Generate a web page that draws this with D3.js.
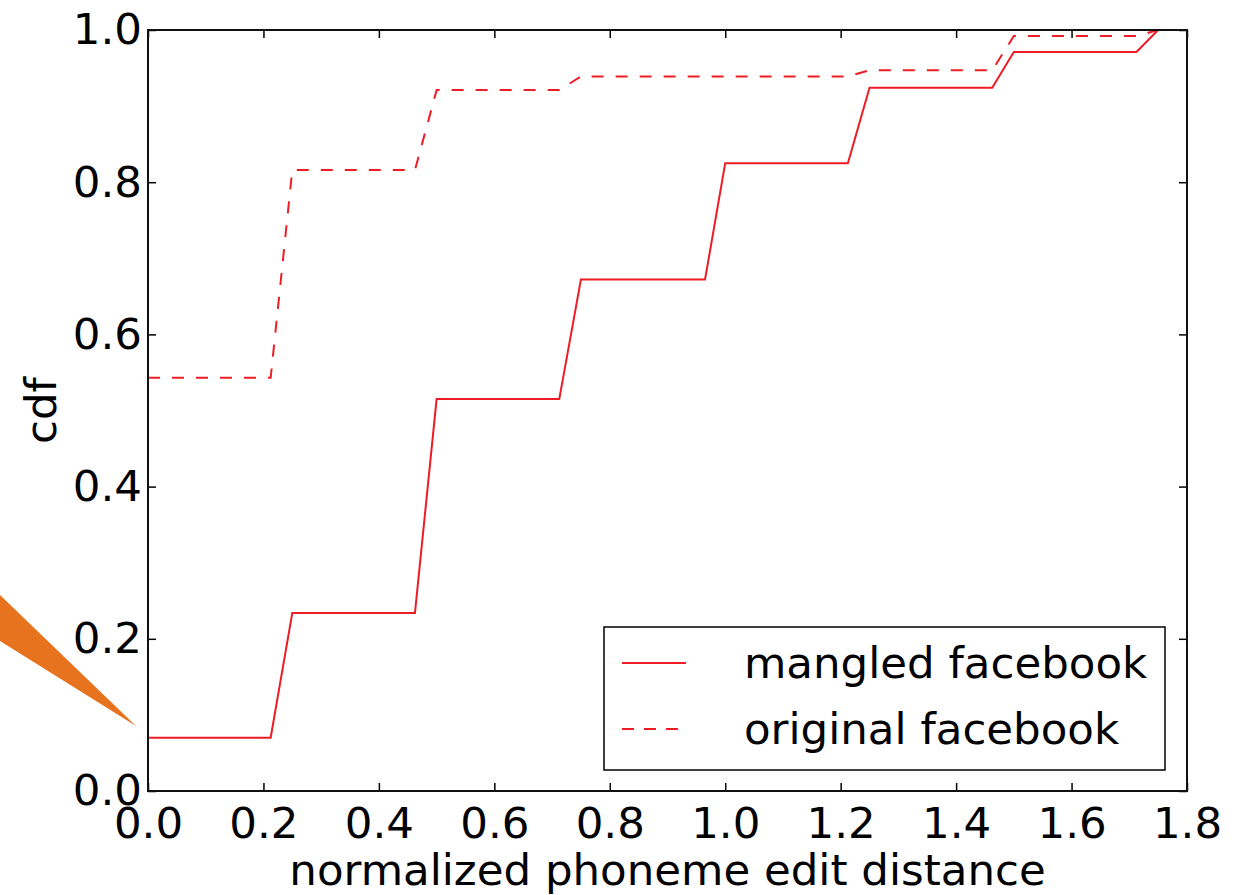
<!DOCTYPE html>
<html>
<head>
<meta charset="utf-8">
<script src="https://cdn.jsdelivr.net/npm/d3@7"></script>
<style>
  body { margin: 0; background: #fff; }
  text { font-family: "DejaVu Sans", sans-serif; fill: #000; }
</style>
</head>
<body>
<div id="chart"></div>
<script>
var w = 1247, h = 895;
var margin = { top: 30, right: 60, bottom: 104, left: 148 };
var width = 1187 - margin.left;
var height = 791 - margin.top;

// step points of the two cdf curves
var mangledX = [0, 0.2125, 0.25, 0.4625, 0.5, 0.7125, 0.75, 0.965, 1.0, 1.2125, 1.25, 1.4625, 1.5, 1.7125, 1.75];
var mangledY = [0.07, 0.07, 0.234, 0.234, 0.515, 0.515, 0.672, 0.672, 0.825, 0.825, 0.924, 0.924, 0.971, 0.971, 1.0];
var originalX = [0, 0.2125, 0.25, 0.4625, 0.5, 0.7125, 0.75, 1.2125, 1.25, 1.4625, 1.5, 1.7125, 1.75];
var originalY = [0.543, 0.543, 0.816, 0.816, 0.921, 0.921, 0.939, 0.939, 0.947, 0.947, 0.992, 0.992, 1.0];

var xTicks = [0, 0.2, 0.4, 0.6, 0.8, 1.0, 1.2, 1.4, 1.6, 1.8];
var yTicks = [0, 0.2, 0.4, 0.6, 0.8, 1.0];
var seriesNames = ["mangled facebook", "original facebook"];

var fontSize = 43.5;

var svg = d3.select("#chart")
  .append("svg")
    .attr("width", w)
    .attr("height", h);

// orange pointer on the left
svg.append("polygon")
  .attr("points", "0,595 136,726 0,641")
  .attr("fill", "#e8731e");

var g = svg.append("g")
  .attr("transform", "translate(" + margin.left + "," + margin.top + ")");

var xScale = d3.scaleLinear().domain([0, 1.8]).range([0, width]);
var yScale = d3.scaleLinear().domain([0, 1]).range([height, 0]);

// axes with inward ticks on all four sides
var fmt = d3.format(".1f");
var xAxis = d3.axisBottom(xScale).tickValues(xTicks).tickFormat(fmt).tickSizeInner(-8).tickSizeOuter(0).tickPadding(16);
var yAxis = d3.axisLeft(yScale).tickValues(yTicks).tickFormat(fmt).tickSizeInner(-8).tickSizeOuter(0).tickPadding(6);
var xTop = d3.axisTop(xScale).tickValues(xTicks).tickFormat("").tickSizeInner(-8).tickSizeOuter(0);
var yRight = d3.axisRight(yScale).tickValues(yTicks).tickFormat("").tickSizeInner(-8).tickSizeOuter(0);

function styleAxis(sel) {
  sel.select(".domain").remove();
  sel.selectAll(".tick line").attr("stroke", "#000").attr("stroke-width", 1.5);
  sel.selectAll(".tick text").attr("font-size", fontSize).attr("font-family", "DejaVu Sans, sans-serif").attr("fill", "#000");
}

g.append("g").attr("transform", "translate(0," + height + ")").call(xAxis).call(styleAxis);
g.append("g").call(yAxis).call(styleAxis);
g.append("g").call(xTop).call(styleAxis);
g.append("g").attr("transform", "translate(" + width + ",0)").call(yRight).call(styleAxis);

// lines
var line = d3.line()
  .x(function(d) { return xScale(d[0]); })
  .y(function(d) { return yScale(d[1]); });

var mangled = mangledX.map(function(x, i) { return [x, mangledY[i]]; });
var original = originalX.map(function(x, i) { return [x, originalY[i]]; });

g.append("path")
  .datum(mangled)
  .attr("d", line)
  .attr("fill", "none")
  .attr("stroke", "#ee1c25")
  .attr("stroke-width", 2);

g.append("path")
  .datum(original)
  .attr("d", line)
  .attr("fill", "none")
  .attr("stroke", "#ee1c25")
  .attr("stroke-width", 2)
  .attr("stroke-dasharray", "12,12");

// frame
g.append("rect")
  .attr("x", 0).attr("y", 0)
  .attr("width", width).attr("height", height)
  .attr("fill", "none")
  .attr("stroke", "#111")
  .attr("stroke-width", 2);

// axis labels
svg.append("text")
  .attr("x", margin.left + width / 2)
  .attr("y", 885)
  .attr("text-anchor", "middle")
  .attr("font-size", fontSize)
  .text("normalized phoneme edit distance");

svg.append("text")
  .attr("transform", "translate(56," + (margin.top + height / 2) + ") rotate(-90)")
  .attr("text-anchor", "middle")
  .attr("font-size", fontSize)
  .text("cdf");

// legend
var legend = svg.append("g").attr("transform", "translate(604,627)");
legend.append("rect")
  .attr("width", 561).attr("height", 143)
  .attr("fill", "#fff")
  .attr("stroke", "#000")
  .attr("stroke-width", 1.5);

seriesNames.forEach(function(name, i) {
  var yy = 36 + i * 66;
  legend.append("line")
    .attr("x1", 18).attr("x2", 82)
    .attr("y1", yy).attr("y2", yy)
    .attr("stroke", "#ee1c25")
    .attr("stroke-width", 2)
    .attr("stroke-dasharray", i === 1 ? "12,10" : null);
  legend.append("text")
    .attr("x", 140)
    .attr("y", yy)
    .attr("dy", "0.35em")
    .attr("font-size", fontSize)
    .text(name);
});
</script>
</body>
</html>
